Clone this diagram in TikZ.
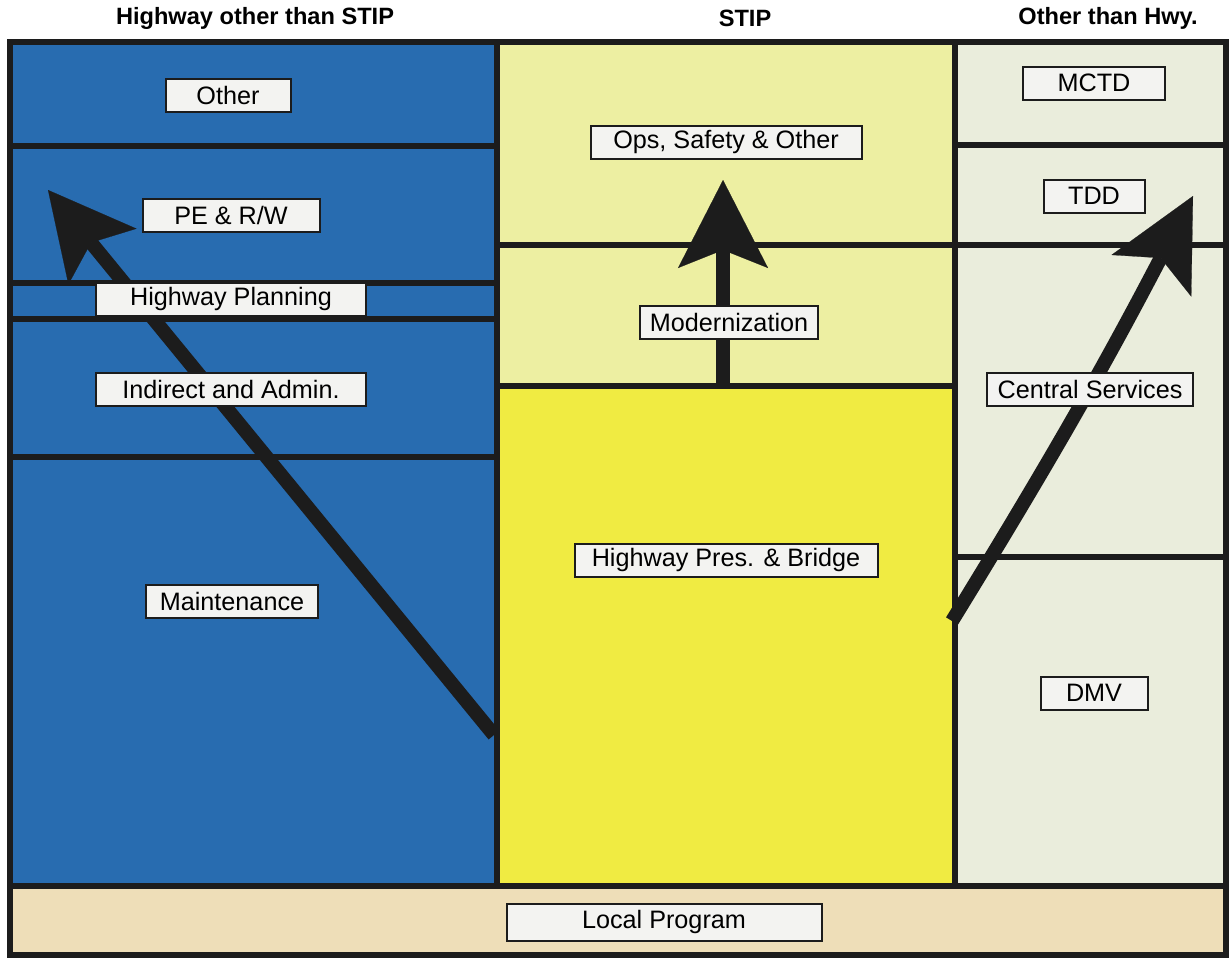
\documentclass[tikz,border=0pt]{standalone}
\usepackage{fontspec}
\setmainfont{Liberation Sans}
\usetikzlibrary{arrows.meta}
\definecolor{hwyblue}{RGB}{40,108,176}
\definecolor{stipyellow}{RGB}{240,235,66}
\definecolor{stiplight}{RGB}{237,239,162}
\definecolor{othgrey}{RGB}{234,237,220}
\definecolor{localtan}{RGB}{238,222,184}
\definecolor{boxfill}{RGB}{243,243,241}
\definecolor{ink}{RGB}{28,28,28}
\tikzstyle{itembox} = [draw=ink, line width=1pt, fill=boxfill, rectangle, text centered, minimum height=16.5pt, inner sep=0pt, font=\fontsize{12.6}{15}\selectfont]
\tikzstyle{colhead} = [font=\bfseries\fontsize{11.8}{14}\selectfont]
\tikzstyle{divider} = [draw=ink, line width=3pt]
\tikzstyle{trend} = [draw=ink, fill=ink, line width=7pt]

\begin{document}
\begin{tikzpicture}[x=0.5pt, y=-0.5pt]
        \useasboundingbox (0,0) rectangle (1229,958);
        % column fills
        \fill[hwyblue] (10,42) rectangle (497,886);
        \fill[stiplight] (497,42) rectangle (955,386);
        \fill[stipyellow] (497,386) rectangle (955,886);
        \fill[othgrey] (955,42) rectangle (1226,886);
        \fill[localtan] (10,886) rectangle (1226,955);
        % grid
        \foreach \y in {146,283,319,457} \draw[divider] (10,\y) -- (497,\y);
        \foreach \y in {245,386} \draw[divider] (497,\y) -- (955,\y);
        \foreach \y in {145,245,557} \draw[divider] (955,\y) -- (1226,\y);
        \draw[divider] (497,42) -- (497,886);
        \draw[divider] (955,42) -- (955,886);
        \draw[divider] (10,886) -- (1226,886);
        \draw[divider] (10,42) rectangle (1226,955);
        % headings
        \node[colhead] (hhwy) at (255,18) {Highway other than STIP};
        \node[colhead] (hstip) at (745,18) {STIP};
        \node[colhead] (hoth) at (1108,18) {Other than Hwy.};
        % trend arrows
        \coordinate (bluefrom) at (494,735);
        \coordinate (blueto) at (48,190);
        \coordinate (stipfrom) at (723,386);
        \coordinate (stipto) at (723,180);
        \coordinate (othfrom) at (952,621);
        \coordinate (othto) at (1193,196);
        \draw[trend, -{Stealth[length=43pt, width=44pt, inset=9pt, line width=0.1pt]}] (bluefrom) -- (blueto);
        \draw[trend, -{Stealth[length=44pt, width=45pt, inset=9pt, line width=0.1pt]}] (stipfrom) -- (stipto);
        \draw[trend, fill=none, -{Stealth[length=45pt, width=45pt, inset=10pt, line width=0.1pt, fill=ink]}] (othfrom) to[bend right=2] (othto);
        % budget items
        \node[itembox, minimum width=62.5pt] (other) at (228,95) {Other};
        \node[itembox, minimum width=88.5pt] (pe) at (231,215) {PE \& R/W};
        \node[itembox, minimum width=135pt] (hwyplan) at (231,299) {Highway Planning};
        \node[itembox, minimum width=135pt] (indirect) at (231,389) {Indirect and Admin.};
        \node[itembox, minimum width=86pt] (maint) at (232,601) {Maintenance};
        \node[itembox, minimum width=135.5pt] (ops) at (726,142) {Ops, Safety \& Other};
        \node[itembox, minimum width=89pt] (modern) at (729,322) {Modernization};
        \node[itembox, minimum width=151.5pt] (pres) at (726,560) {Highway Pres. \& Bridge};
        \node[itembox, minimum width=71pt] (mctd) at (1094,83) {MCTD};
        \node[itembox, minimum width=50.5pt] (tdd) at (1094,196) {TDD};
        \node[itembox, minimum width=103pt] (central) at (1090,389) {Central Services};
        \node[itembox, minimum width=53.5pt] (dmv) at (1094,693) {DMV};
        \node[itembox, minimum width=157.5pt, minimum height=18.5pt] (local) at (664,922) {Local Program};
\end{tikzpicture}
\end{document}
